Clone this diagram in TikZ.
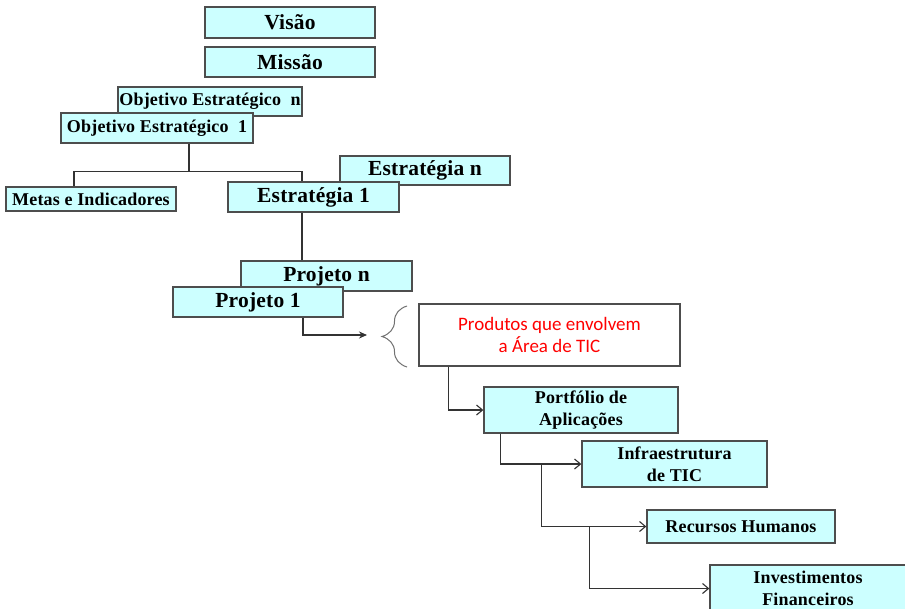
\documentclass[tikz,border=0pt]{standalone}
\usepackage{fontspec}
\setmainfont{Liberation Serif}
\newfontfamily\boxfont[LetterSpace=1]{Liberation Serif}
\newfontfamily\calfont{Carlito}
\usetikzlibrary{arrows.meta,decorations.pathreplacing,calc}
\definecolor{boxfill}{HTML}{CCFFFF}
\definecolor{edgecol}{HTML}{4D4D4D}
\definecolor{wirecol}{HTML}{333333}
\definecolor{redtext}{HTML}{FF0000}
\tikzset{
  cbox/.style={draw=edgecol, line width=1.3pt, fill=boxfill, inner sep=0pt, align=center},
  bigbox/.style={cbox, font=\boxfont\bfseries\fontsize{21.5}{24}\selectfont},
  smallbox/.style={cbox, font=\boxfont\bfseries\fontsize{18}{22}\selectfont},
  wire/.style={draw=wirecol, line width=1.1pt},
  openarrow/.style={wire, -{Straight Barb[length=6pt,width=10pt]}},
  fillarrow/.style={wire, -{Stealth[length=8pt,width=7pt]}},
  bracestyle/.style={draw=edgecol!80, line width=1pt, decorate, decoration={brace, amplitude=25pt}},
}
\begin{document}
\begin{tikzpicture}[x=1pt,y=-1pt]
\clip (0,0) rectangle (905,608);
\fill[white] (0,0) rectangle (905,608);

\node[bigbox, minimum width=170pt, minimum height=31pt] (visao) at (290,22.5) {Visão};
\node[bigbox, minimum width=170pt, minimum height=30pt] (missao) at (290,62) {Missão};

\node[smallbox, minimum width=184pt, minimum height=29pt] (objn) at (210,101.5) {Objetivo Estratégico\ \ n};
\node[smallbox, minimum width=192pt, minimum height=30pt] (obj1) at (157,128) {Objetivo Estratégico\ \ 1};

\node[smallbox, minimum width=170pt, minimum height=24pt] (metas) at (91,199) {Metas e Indicadores};

\node[bigbox, minimum width=170pt, minimum height=29pt] (estrn) at (425,170.5) {Estratégia n};
\node[bigbox, minimum width=171pt, minimum height=30pt] (estr1) at (313.5,197) {Estratégia 1};

\node[bigbox, minimum width=171pt, minimum height=30pt] (projn) at (326.5,276) {Projeto n};
\node[bigbox, minimum width=170pt, minimum height=30pt] (proj1) at (258,302) {Projeto 1};

\node[draw=edgecol, line width=1.3pt, fill=white, inner sep=0pt, align=center,
      minimum width=261pt, minimum height=62pt, text=redtext,
      font=\calfont\fontsize{19}{22}\selectfont] (prod) at (549.5,335) {Produtos que envolvem\\a Área de TIC};

\node[smallbox, minimum width=194pt, minimum height=46pt] (port) at (581,410) {Portfólio de\\Aplicações};
\node[smallbox, minimum width=185pt, minimum height=46pt] (infra) at (674.5,464) {Infraestrutura\\de TIC};
\node[smallbox, minimum width=188pt, minimum height=33pt] (rec) at (741,526.5) {Recursos Humanos};
\node[smallbox, minimum width=196pt, minimum height=47pt] (inv) at (808,588.5) {Investimentos\\Financeiros};

% connectors
\coordinate (obj1b) at ($(obj1.south)+(32,0)$);
\coordinate (bus) at ($(obj1b)+(0,28)$);
\coordinate (mtop) at ($(metas.north)+(-17,0)$);
\coordinate (etop) at ($(estr1.north)+(-11.5,0)$);
\draw[wire] (obj1b) -- (bus);
\draw[wire] (mtop) |- (bus) -| (etop);

\coordinate (ebot) at ($(estr1.south)+(-11.5,0)$);
\draw[wire] (ebot) -- (ebot |- projn.north);

\coordinate (pbot) at ($(proj1.south)+(45,0)$);
\coordinate (arrtip) at (367,335);
\draw[fillarrow] (pbot) |- (arrtip);

\coordinate (brbot) at (407,367);
\coordinate (brtop) at (407,306);
\draw[bracestyle] (brbot) -- (brtop);

\coordinate (prodb) at ($(prod.south west)+(30,0)$);
\draw[openarrow] (prodb) |- (port.west);

\coordinate (portb) at ($(port.south west)+(17,0)$);
\draw[openarrow] (portb) |- (infra.west);

\coordinate (j2) at ($(portb |- infra.west)+(41,0)$);
\draw[openarrow] (j2) |- (rec.west);

\coordinate (j3) at ($(j2 |- rec.west)+(48,0)$);
\draw[openarrow] (j3) |- (inv.west);
\end{tikzpicture}
\end{document}
